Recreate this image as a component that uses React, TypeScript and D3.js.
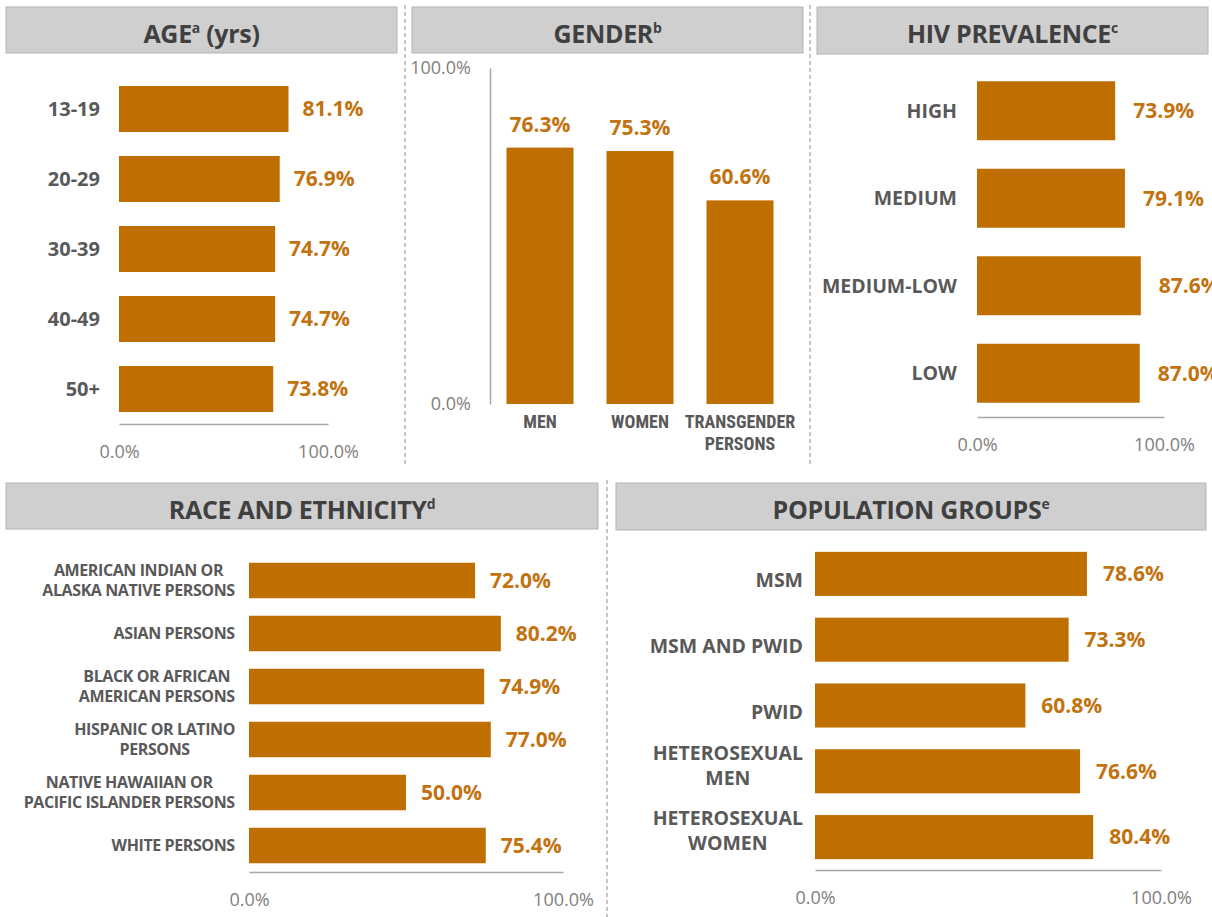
import { useEffect, useRef } from 'react';
import * as d3 from 'd3';

// ---- data ----
const ageCats = [['13-19'], ['20-29'], ['30-39'], ['40-49'], ['50+']];
const ageVals = [81.1, 76.9, 74.7, 74.7, 73.8];

const genderCats = [['MEN'], ['WOMEN'], ['TRANSGENDER', 'PERSONS']];
const genderVals = [76.3, 75.3, 60.6];

const hivCats = [['HIGH'], ['MEDIUM'], ['MEDIUM-LOW'], ['LOW']];
const hivVals = [73.9, 79.1, 87.6, 87.0];

const raceCats = [
  ['AMERICAN INDIAN OR', 'ALASKA NATIVE PERSONS'],
  ['ASIAN PERSONS'],
  ['BLACK OR AFRICAN', 'AMERICAN PERSONS'],
  ['HISPANIC OR LATINO', 'PERSONS'],
  ['NATIVE HAWAIIAN OR', 'PACIFIC ISLANDER PERSONS'],
  ['WHITE PERSONS'],
];
const raceVals = [72.0, 80.2, 74.9, 77.0, 50.0, 75.4];

const popCats = [['MSM'], ['MSM AND PWID'], ['PWID'], ['HETEROSEXUAL', 'MEN'], ['HETEROSEXUAL', 'WOMEN']];
const popVals = [78.6, 73.3, 60.8, 76.6, 80.4];

const tickVals = [0, 100];

const BAR = '#bf6e00';
const VAL = '#c27310';
const CAT = '#595959';
const TICK = '#808080';
const FONT = "'Open Sans', 'Segoe UI', sans-serif";
const pct = (v: number) => d3.format('.1f')(v) + '%';

function header(svg: any, x: number, y: number, w: number, h: number, title: string, sup: string, rest = '') {
  svg.append('rect')
    .attr('x', x).attr('y', y).attr('width', w).attr('height', h)
    .attr('fill', '#d0cfd0').attr('stroke', '#b3b3b3').attr('stroke-width', 1);
  const t = svg.append('text')
    .attr('x', x + w / 2).attr('y', y + 36)
    .attr('text-anchor', 'middle')
    .attr('font-family', FONT).attr('font-weight', 700).attr('font-size', 25)
    .attr('letter-spacing', -0.3)
    .attr('fill', '#404040');
  t.append('tspan').text(title);
  t.append('tspan').attr('font-size', 14).attr('dy', -10).text(sup);
  if (rest) t.append('tspan').attr('dy', 10).text(rest);
}

function labelBlock(g: any, lines: string[], right: number, ys: number[], size: number, spacing = 0) {
  const t = g.append('text')
    .attr('text-anchor', 'middle')
    .attr('font-family', FONT).attr('font-weight', 700).attr('font-size', size)
    .attr('letter-spacing', spacing)
    .attr('fill', CAT);
  lines.forEach((l, k) => {
    t.append('tspan').attr('x', 0).attr('y', ys[k]).attr('dy', '0.35em').text(l);
  });
  const w = (t.node() as SVGTextElement).getBBox().width;
  t.attr('transform', `translate(${right - w / 2},0)`);
}

function hBars(svg: any, o: any) {
  const x = d3.scaleLinear().domain([0, 100]).range([o.x0, o.x1]);
  const y = d3.scaleBand<number>()
    .domain(d3.range(o.cats.length))
    .range([o.y0, o.y1])
    .paddingInner(o.pad).paddingOuter(o.pad / 2);

  const g = svg.append('g');
  g.selectAll('rect.bar')
    .data(o.vals)
    .enter()
    .append('rect')
    .attr('class', 'bar')
    .attr('x', x(0))
    .attr('y', (_d: number, i: number) => y(i))
    .attr('width', (d: number) => x(d) - x(0))
    .attr('height', y.bandwidth())
    .attr('fill', BAR);

  o.vals.forEach((v: number, i: number) => {
    const c = (y(i) as number) + y.bandwidth() / 2;
    g.append('text')
      .attr('x', x(v) + o.gap)
      .attr('y', c)
      .attr('dy', '0.35em')
      .attr('font-family', FONT).attr('font-weight', 700).attr('font-size', 21)
      .attr('fill', VAL)
      .text(pct(v));

    const lines: string[] = o.cats[i];
    let ys: number[];
    if (o.bottomAnchored) {
      ys = lines.map((_l, k) => c + o.shift - (lines.length - 1 - k) * o.lineH);
    } else {
      ys = lines.map((_l, k) => c + (k - (lines.length - 1) / 2) * o.lineH);
    }
    labelBlock(g, lines, o.labelRight, ys, o.labelSize, o.spacing || 0);
  });

  const ax = g.append('g')
    .attr('transform', `translate(0,${o.y1})`)
    .call(d3.axisBottom(x).tickValues(tickVals).tickFormat((d: any) => pct(d)).tickSize(0).tickSizeOuter(0).tickPadding(21));
  ax.select('.domain').attr('stroke', '#a6a6a6').attr('stroke-width', 1.5);
  ax.selectAll('text')
    .attr('font-family', FONT).attr('font-size', 18).attr('fill', TICK);
}

function vBars(svg: any) {
  const x = d3.scaleBand<number>()
    .domain(d3.range(genderCats.length))
    .range([490, 790])
    .paddingInner(0.33).paddingOuter(0.165);
  const y = d3.scaleLinear().domain([0, 100]).range([404, 68]);

  const g = svg.append('g');
  g.selectAll('rect.bar')
    .data(genderVals)
    .enter()
    .append('rect')
    .attr('x', (_d: number, i: number) => x(i))
    .attr('y', (d: number) => y(d))
    .attr('width', x.bandwidth())
    .attr('height', (d: number) => y(0) - y(d))
    .attr('fill', BAR);

  genderVals.forEach((v, i) => {
    const cx = (x(i) as number) + x.bandwidth() / 2;
    g.append('text')
      .attr('x', cx).attr('y', y(v) - 16)
      .attr('text-anchor', 'middle')
      .attr('font-family', FONT).attr('font-weight', 700).attr('font-size', 21)
      .attr('fill', VAL)
      .text(pct(v));
    const t = g.append('text')
      .attr('text-anchor', 'middle')
      .attr('font-family', "'Liberation Sans Narrow', 'Roboto Condensed', 'DejaVu Sans Condensed', sans-serif")
      .attr('font-weight', 700).attr('font-size', 18)
      .attr('fill', CAT);
    genderCats[i].forEach((l, k) => {
      t.append('tspan').attr('x', cx).attr('y', 428 + k * 22).text(l);
    });
  });

  const ax = g.append('g')
    .attr('transform', 'translate(490,0)')
    .call(d3.axisLeft(y).tickValues(tickVals).tickFormat((d: any) => pct(d)).tickSize(0).tickSizeOuter(0).tickPadding(19));
  ax.select('.domain').attr('stroke', '#a6a6a6').attr('stroke-width', 1.5);
  ax.selectAll('text')
    .attr('font-family', FONT).attr('font-size', 18).attr('fill', TICK);
}

const App = () => {
  const svgRef = useRef<SVGSVGElement>(null);

  useEffect(() => {
    const svg = d3.select(svgRef.current);
    svg.selectAll('*').remove();
    svg.append('rect').attr('width', 1212).attr('height', 917).attr('fill', '#fff');

    // dashed separators
    const sep = [[405, 5, 465], [810, 5, 465], [607, 480, 917]];
    sep.forEach(([sx, a, b]) => {
      svg.append('line')
        .attr('x1', sx).attr('x2', sx).attr('y1', a).attr('y2', b)
        .attr('stroke', '#8c8c8c').attr('stroke-width', 1).attr('stroke-dasharray', '4,3');
    });

    header(svg, 6, 7, 391, 46, 'AGE', 'a', ' (yrs)');
    header(svg, 412, 7, 391, 46, 'GENDER', 'b');
    header(svg, 817, 7, 391, 47, 'HIV PREVALENCE', 'c');
    header(svg, 6, 483, 592, 46, 'RACE AND ETHNICITY', 'd');
    header(svg, 616, 483, 590, 47, 'POPULATION GROUPS', 'e');

    hBars(svg, { cats: ageCats, vals: ageVals, x0: 119, x1: 328, y0: 74, y1: 424, pad: 0.343, gap: 14, labelRight: 100, labelSize: 20, lineH: 20 });
    vBars(svg);
    hBars(svg, { cats: hivCats, vals: hivVals, x0: 977, x1: 1164, y0: 67, y1: 417, pad: 0.326, gap: 18, labelRight: 957, labelSize: 19.5, lineH: 20 });
    hBars(svg, { cats: raceCats, vals: raceVals, x0: 249, x1: 563, y0: 554, y1: 872, pad: 0.33, gap: 15, labelRight: 235, labelSize: 16, lineH: 20.7, spacing: -0.4 });
    hBars(svg, { cats: popCats, vals: popVals, x0: 815, x1: 1161, y0: 541, y1: 870, pad: 0.33, gap: 16, labelRight: 803, labelSize: 19.5, lineH: 25, bottomAnchored: true, shift: 6.5 });
  }, []);

  return (
    <div style={{ position: 'absolute', left: 0, top: 0 }}>
      <svg ref={svgRef} width={1212} height={917} style={{ display: 'block' }}></svg>
    </div>
  );
};

export default App;
